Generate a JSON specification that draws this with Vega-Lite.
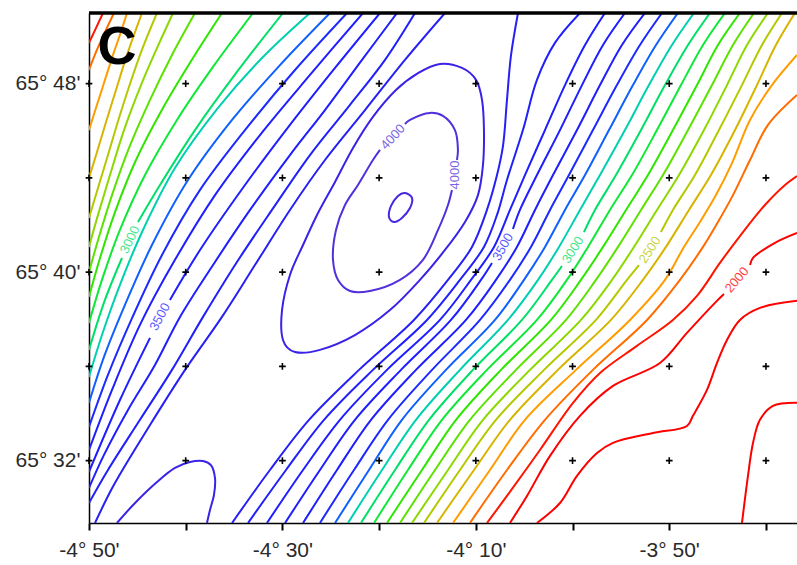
{
"$schema":"https://vega.github.io/schema/vega-lite/v6.json",
"width":708,"height":510,
"autosize":{"type":"none"},
"padding":{"left":89,"top":13,"right":0,"bottom":42},
"background":"white",
"config":{"view":{"stroke":null},"font":"Liberation Sans"},
"datasets":{
"lines":[
{"g":"L2100","v":2100,"o":0,"x":-290,"y":49.73},{"g":"L2100","v":2100,"o":1,"x":-289.28,"y":50.36},{"g":"L2100","v":2100,"o":2,"x":-288.55,"y":51.0},
{"g":"L2200","v":2200,"o":0,"x":-290,"y":48.58},{"g":"L2200","v":2200,"o":1,"x":-289.28,"y":49.34},{"g":"L2200","v":2200,"o":2,"x":-288.35,"y":50.19},{"g":"L2200","v":2200,"o":3,"x":-287.42,"y":51.0},
{"g":"L2300","v":2300,"o":0,"x":-290,"y":46.03},{"g":"L2300","v":2300,"o":1,"x":-289.28,"y":46.97},{"g":"L2300","v":2300,"o":2,"x":-288.45,"y":48.03},{"g":"L2300","v":2300,"o":3,"x":-287.52,"y":49.22},{"g":"L2300","v":2300,"o":4,"x":-286.8,"y":50.07},{"g":"L2300","v":2300,"o":5,"x":-286.07,"y":51.0},
{"g":"L2400","v":2400,"o":0,"x":-290,"y":44.0},{"g":"L2400","v":2400,"o":1,"x":-289.17,"y":45.1},{"g":"L2400","v":2400,"o":2,"x":-288.24,"y":46.37},{"g":"L2400","v":2400,"o":3,"x":-287.21,"y":47.73},{"g":"L2400","v":2400,"o":4,"x":-286.07,"y":49.22},{"g":"L2400","v":2400,"o":5,"x":-284.52,"y":51.0},
{"g":"L2500","v":2500,"o":0,"x":-290,"y":42.3},{"g":"L2500","v":2500,"o":1,"x":-289.07,"y":43.57},{"g":"L2500","v":2500,"o":2,"x":-288.04,"y":44.97},{"g":"L2500","v":2500,"o":3,"x":-286.8,"y":46.67},{"g":"L2500","v":2500,"o":4,"x":-285.45,"y":48.37},{"g":"L2500","v":2500,"o":5,"x":-284.21,"y":49.77},{"g":"L2500","v":2500,"o":6,"x":-282.97,"y":51.0},
{"g":"L2600","v":2600,"o":0,"x":-290,"y":41.07},{"g":"L2600","v":2600,"o":1,"x":-289.07,"y":42.43},{"g":"L2600","v":2600,"o":2,"x":-287.83,"y":44.12},{"g":"L2600","v":2600,"o":3,"x":-286.38,"y":46.03},{"g":"L2600","v":2600,"o":4,"x":-284.62,"y":47.94},{"g":"L2600","v":2600,"o":5,"x":-282.97,"y":49.51},{"g":"L2600","v":2600,"o":6,"x":-281.31,"y":51.0},
{"g":"L2700","v":2700,"o":0,"x":-290,"y":40.01},{"g":"L2700","v":2700,"o":1,"x":-288.97,"y":41.49},{"g":"L2700","v":2700,"o":2,"x":-287.62,"y":43.27},{"g":"L2700","v":2700,"o":3,"x":-285.86,"y":45.27},{"g":"L2700","v":2700,"o":4,"x":-283.69,"y":47.31},{"g":"L2700","v":2700,"o":5,"x":-281.42,"y":49.22},{"g":"L2700","v":2700,"o":6,"x":-279.04,"y":51.0},
{"g":"L2800","v":2800,"o":0,"x":-290,"y":38.95},{"g":"L2800","v":2800,"o":1,"x":-288.86,"y":40.6},{"g":"L2800","v":2800,"o":2,"x":-287.31,"y":42.55},{"g":"L2800","v":2800,"o":3,"x":-285.14,"y":44.76},{"g":"L2800","v":2800,"o":4,"x":-282.35,"y":46.97},{"g":"L2800","v":2800,"o":5,"x":-279.25,"y":49.09},{"g":"L2800","v":2800,"o":6,"x":-276.25,"y":51.0},
{"g":"L2900","v":2900,"o":0,"x":-290,"y":37.84},{"g":"L2900","v":2900,"o":1,"x":-288.66,"y":39.67},{"g":"L2900","v":2900,"o":2,"x":-286.8,"y":41.79},{"g":"L2900","v":2900,"o":3,"x":-284.21,"y":44.12},{"g":"L2900","v":2900,"o":4,"x":-280.9,"y":46.46},{"g":"L2900","v":2900,"o":5,"x":-277.18,"y":48.71},{"g":"L2900","v":2900,"o":6,"x":-273.04,"y":51.0},
{"g":"L3000a","v":3000,"o":0,"x":-290,"y":36.7},{"g":"L3000a","v":3000,"o":1,"x":-288.35,"y":38.82},{"g":"L3000a","v":3000,"o":2,"x":-286.59,"y":40.6},
{"g":"L3000b","v":3000,"o":0,"x":-284.93,"y":42.13},{"g":"L3000b","v":3000,"o":1,"x":-282.66,"y":43.7},{"g":"L3000b","v":3000,"o":2,"x":-279.04,"y":46.03},{"g":"L3000b","v":3000,"o":3,"x":-274.7,"y":48.5},{"g":"L3000b","v":3000,"o":4,"x":-269.94,"y":51.0},
{"g":"L3100","v":3100,"o":0,"x":-290,"y":35.55},{"g":"L3100","v":3100,"o":1,"x":-288.66,"y":37.33},{"g":"L3100","v":3100,"o":2,"x":-286.8,"y":39.46},{"g":"L3100","v":3100,"o":3,"x":-284.42,"y":41.79},{"g":"L3100","v":3100,"o":4,"x":-281.11,"y":44.42},{"g":"L3100","v":3100,"o":5,"x":-276.66,"y":46.97},{"g":"L3100","v":3100,"o":6,"x":-272.11,"y":49.09},{"g":"L3100","v":3100,"o":7,"x":-267.15,"y":51.0},
{"g":"L3200","v":3200,"o":0,"x":-290,"y":34.45},{"g":"L3200","v":3200,"o":1,"x":-288.45,"y":36.4},{"g":"L3200","v":3200,"o":2,"x":-286.28,"y":38.61},{"g":"L3200","v":3200,"o":3,"x":-283.49,"y":41.15},{"g":"L3200","v":3200,"o":4,"x":-279.76,"y":43.91},{"g":"L3200","v":3200,"o":5,"x":-275.21,"y":46.46},{"g":"L3200","v":3200,"o":6,"x":-270.25,"y":48.79},{"g":"L3200","v":3200,"o":7,"x":-265.08,"y":51.0},
{"g":"L3300","v":3300,"o":0,"x":-290,"y":33.43},{"g":"L3300","v":3300,"o":1,"x":-288.04,"y":35.64},{"g":"L3300","v":3300,"o":2,"x":-285.55,"y":38.05},{"g":"L3300","v":3300,"o":3,"x":-282.45,"y":40.73},{"g":"L3300","v":3300,"o":4,"x":-278.52,"y":43.49},{"g":"L3300","v":3300,"o":5,"x":-273.87,"y":46.03},{"g":"L3300","v":3300,"o":6,"x":-268.7,"y":48.58},{"g":"L3300","v":3300,"o":7,"x":-263.32,"y":51.0},
{"g":"L3400","v":3400,"o":0,"x":-290,"y":32.45},{"g":"L3400","v":3400,"o":1,"x":-287.62,"y":35.0},{"g":"L3400","v":3400,"o":2,"x":-284.73,"y":37.76},{"g":"L3400","v":3400,"o":3,"x":-281.11,"y":40.52},{"g":"L3400","v":3400,"o":4,"x":-276.97,"y":43.27},{"g":"L3400","v":3400,"o":5,"x":-272.32,"y":45.82},{"g":"L3400","v":3400,"o":6,"x":-267.15,"y":48.37},{"g":"L3400","v":3400,"o":7,"x":-261.67,"y":51.0},
{"g":"L3500a","v":3500,"o":0,"x":-290,"y":31.52},{"g":"L3500a","v":3500,"o":1,"x":-286.8,"y":34.57},{"g":"L3500a","v":3500,"o":2,"x":-283.69,"y":37.21},
{"g":"L3500b","v":3500,"o":0,"x":-281.63,"y":38.82},{"g":"L3500b","v":3500,"o":1,"x":-278.52,"y":40.94},{"g":"L3500b","v":3500,"o":2,"x":-273.87,"y":43.7},{"g":"L3500b","v":3500,"o":3,"x":-269.22,"y":46.25},{"g":"L3500b","v":3500,"o":4,"x":-264.56,"y":48.67},{"g":"L3500b","v":3500,"o":5,"x":-259.91,"y":51.0},
{"g":"L3600","v":3600,"o":0,"x":-290,"y":30.84},{"g":"L3600","v":3600,"o":1,"x":-288.45,"y":32.24},{"g":"L3600","v":3600,"o":2,"x":-285.97,"y":34.15},{"g":"L3600","v":3600,"o":3,"x":-283.18,"y":36.06},{"g":"L3600","v":3600,"o":4,"x":-280.59,"y":38.1},{"g":"L3600","v":3600,"o":5,"x":-276.97,"y":40.43},{"g":"L3600","v":3600,"o":6,"x":-273.35,"y":42.64},{"g":"L3600","v":3600,"o":7,"x":-269.22,"y":44.97},{"g":"L3600","v":3600,"o":8,"x":-265.6,"y":46.88},{"g":"L3600","v":3600,"o":9,"x":-261.77,"y":49.01},{"g":"L3600","v":3600,"o":10,"x":-258.15,"y":51.0},
{"g":"L3700","v":3700,"o":0,"x":-290,"y":30.2},{"g":"L3700","v":3700,"o":1,"x":-288.04,"y":31.6},{"g":"L3700","v":3700,"o":2,"x":-284.73,"y":33.73},{"g":"L3700","v":3700,"o":3,"x":-281.42,"y":35.85},{"g":"L3700","v":3700,"o":4,"x":-278.21,"y":38.1},{"g":"L3700","v":3700,"o":5,"x":-274.7,"y":40.43},{"g":"L3700","v":3700,"o":6,"x":-271.08,"y":42.64},{"g":"L3700","v":3700,"o":7,"x":-267.15,"y":44.97},{"g":"L3700","v":3700,"o":8,"x":-263.01,"y":47.1},{"g":"L3700","v":3700,"o":9,"x":-259.39,"y":49.01},{"g":"L3700","v":3700,"o":10,"x":-256.29,"y":51.0},
{"g":"L3800","v":3800,"o":0,"x":-289.38,"y":29.35},{"g":"L3800","v":3800,"o":1,"x":-287.42,"y":30.97},{"g":"L3800","v":3800,"o":2,"x":-283.69,"y":33.51},{"g":"L3800","v":3800,"o":3,"x":-280.07,"y":35.85},{"g":"L3800","v":3800,"o":4,"x":-276.25,"y":38.1},{"g":"L3800","v":3800,"o":5,"x":-272.84,"y":40.3},{"g":"L3800","v":3800,"o":6,"x":-269.22,"y":42.64},{"g":"L3800","v":3800,"o":7,"x":-265.6,"y":44.76},{"g":"L3800","v":3800,"o":8,"x":-261.46,"y":46.88},{"g":"L3800","v":3800,"o":9,"x":-257.33,"y":49.01},{"g":"L3800","v":3800,"o":10,"x":-253.19,"y":51.0},
{"g":"U3900","v":3900,"o":0,"x":-287.11,"y":29.35},{"g":"U3900","v":3900,"o":1,"x":-285.24,"y":30.2},{"g":"U3900","v":3900,"o":2,"x":-282.97,"y":31.09},{"g":"U3900","v":3900,"o":3,"x":-281.11,"y":31.69},{"g":"U3900","v":3900,"o":4,"x":-279.56,"y":31.94},{"g":"U3900","v":3900,"o":5,"x":-278.21,"y":31.98},{"g":"U3900","v":3900,"o":6,"x":-277.39,"y":31.81},{"g":"U3900","v":3900,"o":7,"x":-276.97,"y":31.26},{"g":"U3900","v":3900,"o":8,"x":-277.08,"y":30.54},{"g":"U3900","v":3900,"o":9,"x":-277.49,"y":29.9},{"g":"U3900","v":3900,"o":10,"x":-277.8,"y":29.35},
{"g":"E4000a","v":4000,"o":0,"x":-252.47,"y":43.49},{"g":"E4000a","v":4000,"o":1,"x":-252.88,"y":42.85},{"g":"E4000a","v":4000,"o":2,"x":-253.91,"y":41.79},{"g":"E4000a","v":4000,"o":3,"x":-255.47,"y":40.52},{"g":"E4000a","v":4000,"o":4,"x":-257.84,"y":39.67},{"g":"E4000a","v":4000,"o":5,"x":-260.95,"y":39.2},{"g":"E4000a","v":4000,"o":6,"x":-263.01,"y":39.2},{"g":"E4000a","v":4000,"o":7,"x":-264.25,"y":39.67},{"g":"E4000a","v":4000,"o":8,"x":-264.77,"y":40.52},{"g":"E4000a","v":4000,"o":9,"x":-264.46,"y":41.79},{"g":"E4000a","v":4000,"o":10,"x":-263.53,"y":42.85},{"g":"E4000a","v":4000,"o":11,"x":-262.19,"y":43.7},{"g":"E4000a","v":4000,"o":12,"x":-260.64,"y":44.76},{"g":"E4000a","v":4000,"o":13,"x":-259.91,"y":45.19},
{"g":"E4000b","v":4000,"o":0,"x":-257.33,"y":46.29},{"g":"E4000b","v":4000,"o":1,"x":-256.81,"y":46.46},{"g":"E4000b","v":4000,"o":2,"x":-254.74,"y":46.76},{"g":"E4000b","v":4000,"o":3,"x":-253.4,"y":46.63},{"g":"E4000b","v":4000,"o":4,"x":-252.16,"y":46.03},{"g":"E4000b","v":4000,"o":5,"x":-251.85,"y":45.19},{"g":"E4000b","v":4000,"o":6,"x":-251.95,"y":44.76},
{"g":"R3800","v":3800,"o":0,"x":-275.21,"y":29.35},{"g":"R3800","v":3800,"o":1,"x":-271.29,"y":31.6},{"g":"R3800","v":3800,"o":2,"x":-267.25,"y":33.73},{"g":"R3800","v":3800,"o":3,"x":-262.08,"y":35.85},{"g":"R3800","v":3800,"o":4,"x":-256.4,"y":37.97},{"g":"R3800","v":3800,"o":5,"x":-252.88,"y":39.67},{"g":"R3800","v":3800,"o":6,"x":-250.4,"y":41.07},{"g":"R3800","v":3800,"o":7,"x":-248.85,"y":42.64},{"g":"R3800","v":3800,"o":8,"x":-247.81,"y":44.12},{"g":"R3800","v":3800,"o":9,"x":-247.19,"y":45.36},{"g":"R3800","v":3800,"o":10,"x":-246.78,"y":47.31},{"g":"R3800","v":3800,"o":11,"x":-246.37,"y":49.18},{"g":"R3800","v":3800,"o":12,"x":-245.64,"y":51.0},
{"g":"R3700","v":3700,"o":0,"x":-273.56,"y":29.35},{"g":"R3700","v":3700,"o":1,"x":-269.63,"y":31.6},{"g":"R3700","v":3700,"o":2,"x":-265.7,"y":33.73},{"g":"R3700","v":3700,"o":3,"x":-260.64,"y":35.85},{"g":"R3700","v":3700,"o":4,"x":-255.05,"y":37.97},{"g":"R3700","v":3700,"o":5,"x":-251.64,"y":39.67},{"g":"R3700","v":3700,"o":6,"x":-249.16,"y":41.07},{"g":"R3700","v":3700,"o":7,"x":-247.81,"y":42.43},{"g":"R3700","v":3700,"o":8,"x":-246.78,"y":43.91},{"g":"R3700","v":3700,"o":9,"x":-245.13,"y":46.03},{"g":"R3700","v":3700,"o":10,"x":-243.68,"y":48.16},{"g":"R3700","v":3700,"o":11,"x":-241.82,"y":49.73},{"g":"R3700","v":3700,"o":12,"x":-239.23,"y":51.0},
{"g":"R3600","v":3600,"o":0,"x":-271.6,"y":29.35},{"g":"R3600","v":3600,"o":1,"x":-267.87,"y":31.6},{"g":"R3600","v":3600,"o":2,"x":-264.05,"y":33.73},{"g":"R3600","v":3600,"o":3,"x":-259.19,"y":35.85},{"g":"R3600","v":3600,"o":4,"x":-253.71,"y":37.97},{"g":"R3600","v":3600,"o":5,"x":-250.5,"y":39.67},{"g":"R3600","v":3600,"o":6,"x":-248.12,"y":41.07},{"g":"R3600","v":3600,"o":7,"x":-246.47,"y":42.64},{"g":"R3600","v":3600,"o":8,"x":-244.92,"y":44.12},{"g":"R3600","v":3600,"o":9,"x":-242.85,"y":46.03},{"g":"R3600","v":3600,"o":10,"x":-240.78,"y":47.94},{"g":"R3600","v":3600,"o":11,"x":-238.71,"y":49.64},{"g":"R3600","v":3600,"o":12,"x":-236.65,"y":51.0},
{"g":"R3500a","v":3500,"o":0,"x":-269.73,"y":29.35},{"g":"R3500a","v":3500,"o":1,"x":-266.12,"y":31.6},{"g":"R3500a","v":3500,"o":2,"x":-262.5,"y":33.73},{"g":"R3500a","v":3500,"o":3,"x":-257.74,"y":35.85},{"g":"R3500a","v":3500,"o":4,"x":-252.57,"y":37.97},{"g":"R3500a","v":3500,"o":5,"x":-249.47,"y":39.67},{"g":"R3500a","v":3500,"o":6,"x":-248.33,"y":40.39},
{"g":"R3500b","v":3500,"o":0,"x":-246.16,"y":41.83},{"g":"R3500b","v":3500,"o":1,"x":-245.44,"y":42.64},{"g":"R3500b","v":3500,"o":2,"x":-243.68,"y":44.12},{"g":"R3500b","v":3500,"o":3,"x":-241.3,"y":46.03},{"g":"R3500b","v":3500,"o":4,"x":-239.02,"y":47.94},{"g":"R3500b","v":3500,"o":5,"x":-236.85,"y":49.64},{"g":"R3500b","v":3500,"o":6,"x":-234.58,"y":51.0},
{"g":"R3400","v":3400,"o":0,"x":-267.87,"y":29.35},{"g":"R3400","v":3400,"o":1,"x":-264.36,"y":31.6},{"g":"R3400","v":3400,"o":2,"x":-260.84,"y":33.73},{"g":"R3400","v":3400,"o":3,"x":-256.19,"y":35.85},{"g":"R3400","v":3400,"o":4,"x":-251.02,"y":37.97},{"g":"R3400","v":3400,"o":5,"x":-247.92,"y":39.67},{"g":"R3400","v":3400,"o":6,"x":-245.75,"y":41.07},{"g":"R3400","v":3400,"o":7,"x":-243.88,"y":42.64},{"g":"R3400","v":3400,"o":8,"x":-242.02,"y":44.12},{"g":"R3400","v":3400,"o":9,"x":-239.54,"y":46.03},{"g":"R3400","v":3400,"o":10,"x":-237.16,"y":47.94},{"g":"R3400","v":3400,"o":11,"x":-234.89,"y":49.64},{"g":"R3400","v":3400,"o":12,"x":-232.51,"y":51.0},
{"g":"R3300","v":3300,"o":0,"x":-266.12,"y":29.35},{"g":"R3300","v":3300,"o":1,"x":-262.6,"y":31.6},{"g":"R3300","v":3300,"o":2,"x":-259.08,"y":33.73},{"g":"R3300","v":3300,"o":3,"x":-254.53,"y":35.85},{"g":"R3300","v":3300,"o":4,"x":-249.57,"y":37.97},{"g":"R3300","v":3300,"o":5,"x":-246.47,"y":39.67},{"g":"R3300","v":3300,"o":6,"x":-244.3,"y":41.07},{"g":"R3300","v":3300,"o":7,"x":-242.33,"y":42.64},{"g":"R3300","v":3300,"o":8,"x":-240.37,"y":44.12},{"g":"R3300","v":3300,"o":9,"x":-237.89,"y":46.03},{"g":"R3300","v":3300,"o":10,"x":-235.41,"y":47.94},{"g":"R3300","v":3300,"o":11,"x":-233.03,"y":49.64},{"g":"R3300","v":3300,"o":12,"x":-230.75,"y":51.0},
{"g":"R3200","v":3200,"o":0,"x":-264.56,"y":29.35},{"g":"R3200","v":3200,"o":1,"x":-261.05,"y":31.6},{"g":"R3200","v":3200,"o":2,"x":-257.64,"y":33.73},{"g":"R3200","v":3200,"o":3,"x":-253.09,"y":35.85},{"g":"R3200","v":3200,"o":4,"x":-248.02,"y":37.97},{"g":"R3200","v":3200,"o":5,"x":-245.02,"y":39.67},{"g":"R3200","v":3200,"o":6,"x":-242.85,"y":41.07},{"g":"R3200","v":3200,"o":7,"x":-240.78,"y":42.64},{"g":"R3200","v":3200,"o":8,"x":-238.71,"y":44.12},{"g":"R3200","v":3200,"o":9,"x":-236.23,"y":46.03},{"g":"R3200","v":3200,"o":10,"x":-233.75,"y":47.94},{"g":"R3200","v":3200,"o":11,"x":-231.37,"y":49.64},{"g":"R3200","v":3200,"o":12,"x":-229.1,"y":51.0},
{"g":"R3100","v":3100,"o":0,"x":-263.22,"y":29.35},{"g":"R3100","v":3100,"o":1,"x":-259.7,"y":31.6},{"g":"R3100","v":3100,"o":2,"x":-256.19,"y":33.73},{"g":"R3100","v":3100,"o":3,"x":-251.64,"y":35.85},{"g":"R3100","v":3100,"o":4,"x":-246.68,"y":37.97},{"g":"R3100","v":3100,"o":5,"x":-243.57,"y":39.67},{"g":"R3100","v":3100,"o":6,"x":-241.4,"y":41.07},{"g":"R3100","v":3100,"o":7,"x":-239.23,"y":42.64},{"g":"R3100","v":3100,"o":8,"x":-237.16,"y":44.12},{"g":"R3100","v":3100,"o":9,"x":-234.58,"y":46.03},{"g":"R3100","v":3100,"o":10,"x":-232.1,"y":47.94},{"g":"R3100","v":3100,"o":11,"x":-229.72,"y":49.64},{"g":"R3100","v":3100,"o":12,"x":-227.44,"y":51.0},
{"g":"R3000a","v":3000,"o":0,"x":-261.88,"y":29.35},{"g":"R3000a","v":3000,"o":1,"x":-258.36,"y":31.6},{"g":"R3000a","v":3000,"o":2,"x":-254.84,"y":33.73},{"g":"R3000a","v":3000,"o":3,"x":-250.3,"y":35.85},{"g":"R3000a","v":3000,"o":4,"x":-245.23,"y":37.97},{"g":"R3000a","v":3000,"o":5,"x":-242.13,"y":39.67},{"g":"R3000a","v":3000,"o":6,"x":-241.09,"y":40.26},
{"g":"R3000b","v":3000,"o":0,"x":-238.82,"y":41.7},{"g":"R3000b","v":3000,"o":1,"x":-237.68,"y":42.64},{"g":"R3000b","v":3000,"o":2,"x":-235.51,"y":44.12},{"g":"R3000b","v":3000,"o":3,"x":-232.92,"y":46.03},{"g":"R3000b","v":3000,"o":4,"x":-230.44,"y":47.94},{"g":"R3000b","v":3000,"o":5,"x":-228.06,"y":49.64},{"g":"R3000b","v":3000,"o":6,"x":-225.79,"y":51.0},
{"g":"R2900","v":2900,"o":0,"x":-260.53,"y":29.35},{"g":"R2900","v":2900,"o":1,"x":-257.02,"y":31.6},{"g":"R2900","v":2900,"o":2,"x":-253.5,"y":33.73},{"g":"R2900","v":2900,"o":3,"x":-248.85,"y":35.85},{"g":"R2900","v":2900,"o":4,"x":-243.68,"y":37.97},{"g":"R2900","v":2900,"o":5,"x":-240.58,"y":39.67},{"g":"R2900","v":2900,"o":6,"x":-238.4,"y":41.07},{"g":"R2900","v":2900,"o":7,"x":-236.13,"y":42.64},{"g":"R2900","v":2900,"o":8,"x":-233.85,"y":44.12},{"g":"R2900","v":2900,"o":9,"x":-231.27,"y":46.03},{"g":"R2900","v":2900,"o":10,"x":-228.79,"y":47.94},{"g":"R2900","v":2900,"o":11,"x":-226.51,"y":49.64},{"g":"R2900","v":2900,"o":12,"x":-224.24,"y":51.0},
{"g":"R2800","v":2800,"o":0,"x":-259.19,"y":29.35},{"g":"R2800","v":2800,"o":1,"x":-255.57,"y":31.6},{"g":"R2800","v":2800,"o":2,"x":-252.05,"y":33.73},{"g":"R2800","v":2800,"o":3,"x":-247.4,"y":35.85},{"g":"R2800","v":2800,"o":4,"x":-242.23,"y":37.97},{"g":"R2800","v":2800,"o":5,"x":-239.13,"y":39.67},{"g":"R2800","v":2800,"o":6,"x":-236.85,"y":41.07},{"g":"R2800","v":2800,"o":7,"x":-234.47,"y":42.64},{"g":"R2800","v":2800,"o":8,"x":-232.2,"y":44.12},{"g":"R2800","v":2800,"o":9,"x":-229.62,"y":46.03},{"g":"R2800","v":2800,"o":10,"x":-227.13,"y":47.94},{"g":"R2800","v":2800,"o":11,"x":-224.96,"y":49.64},{"g":"R2800","v":2800,"o":12,"x":-222.69,"y":51.0},
{"g":"R2700","v":2700,"o":0,"x":-257.84,"y":29.35},{"g":"R2700","v":2700,"o":1,"x":-254.22,"y":31.6},{"g":"R2700","v":2700,"o":2,"x":-250.61,"y":33.73},{"g":"R2700","v":2700,"o":3,"x":-245.85,"y":35.85},{"g":"R2700","v":2700,"o":4,"x":-240.68,"y":37.97},{"g":"R2700","v":2700,"o":5,"x":-237.58,"y":39.67},{"g":"R2700","v":2700,"o":6,"x":-235.3,"y":41.07},{"g":"R2700","v":2700,"o":7,"x":-232.92,"y":42.64},{"g":"R2700","v":2700,"o":8,"x":-230.65,"y":44.12},{"g":"R2700","v":2700,"o":9,"x":-228.06,"y":46.03},{"g":"R2700","v":2700,"o":10,"x":-225.58,"y":47.94},{"g":"R2700","v":2700,"o":11,"x":-223.41,"y":49.64},{"g":"R2700","v":2700,"o":12,"x":-221.24,"y":51.0},
{"g":"R2600","v":2600,"o":0,"x":-256.6,"y":29.35},{"g":"R2600","v":2600,"o":1,"x":-252.88,"y":31.6},{"g":"R2600","v":2600,"o":2,"x":-249.26,"y":33.73},{"g":"R2600","v":2600,"o":3,"x":-244.4,"y":35.85},{"g":"R2600","v":2600,"o":4,"x":-239.13,"y":37.97},{"g":"R2600","v":2600,"o":5,"x":-235.92,"y":39.67},{"g":"R2600","v":2600,"o":6,"x":-233.65,"y":41.07},{"g":"R2600","v":2600,"o":7,"x":-231.27,"y":42.64},{"g":"R2600","v":2600,"o":8,"x":-228.99,"y":44.12},{"g":"R2600","v":2600,"o":9,"x":-226.41,"y":46.03},{"g":"R2600","v":2600,"o":10,"x":-224.03,"y":47.94},{"g":"R2600","v":2600,"o":11,"x":-221.96,"y":49.64},{"g":"R2600","v":2600,"o":12,"x":-219.79,"y":51.0},
{"g":"R2500a","v":2500,"o":0,"x":-255.36,"y":29.35},{"g":"R2500a","v":2500,"o":1,"x":-251.64,"y":31.6},{"g":"R2500a","v":2500,"o":2,"x":-247.92,"y":33.73},{"g":"R2500a","v":2500,"o":3,"x":-242.95,"y":35.85},{"g":"R2500a","v":2500,"o":4,"x":-237.58,"y":37.97},{"g":"R2500a","v":2500,"o":5,"x":-234.37,"y":39.67},{"g":"R2500a","v":2500,"o":6,"x":-233.13,"y":40.3},
{"g":"R2500b","v":2500,"o":0,"x":-230.86,"y":41.7},{"g":"R2500b","v":2500,"o":1,"x":-229.62,"y":42.64},{"g":"R2500b","v":2500,"o":2,"x":-227.34,"y":44.12},{"g":"R2500b","v":2500,"o":3,"x":-224.86,"y":46.03},{"g":"R2500b","v":2500,"o":4,"x":-222.48,"y":47.94},{"g":"R2500b","v":2500,"o":5,"x":-220.41,"y":49.64},{"g":"R2500b","v":2500,"o":6,"x":-218.34,"y":51.0},
{"g":"R2400","v":2400,"o":0,"x":-254.02,"y":29.35},{"g":"R2400","v":2400,"o":1,"x":-250.19,"y":31.6},{"g":"R2400","v":2400,"o":2,"x":-246.47,"y":33.73},{"g":"R2400","v":2400,"o":3,"x":-241.51,"y":35.85},{"g":"R2400","v":2400,"o":4,"x":-236.03,"y":37.97},{"g":"R2400","v":2400,"o":5,"x":-232.72,"y":39.67},{"g":"R2400","v":2400,"o":6,"x":-230.34,"y":41.07},{"g":"R2400","v":2400,"o":7,"x":-227.96,"y":42.64},{"g":"R2400","v":2400,"o":8,"x":-225.69,"y":44.12},{"g":"R2400","v":2400,"o":9,"x":-223.2,"y":46.03},{"g":"R2400","v":2400,"o":10,"x":-220.93,"y":47.94},{"g":"R2400","v":2400,"o":11,"x":-218.97,"y":49.64},{"g":"R2400","v":2400,"o":12,"x":-217.0,"y":51.0},
{"g":"R2300","v":2300,"o":0,"x":-252.36,"y":29.35},{"g":"R2300","v":2300,"o":1,"x":-248.54,"y":31.6},{"g":"R2300","v":2300,"o":2,"x":-244.92,"y":33.73},{"g":"R2300","v":2300,"o":3,"x":-239.64,"y":35.85},{"g":"R2300","v":2300,"o":4,"x":-234.06,"y":37.97},{"g":"R2300","v":2300,"o":5,"x":-230.44,"y":39.67},{"g":"R2300","v":2300,"o":6,"x":-228.48,"y":41.07},{"g":"R2300","v":2300,"o":7,"x":-226.82,"y":42.13},{"g":"R2300","v":2300,"o":8,"x":-225.17,"y":43.27},{"g":"R2300","v":2300,"o":9,"x":-223.51,"y":44.63},{"g":"R2300","v":2300,"o":10,"x":-221.65,"y":46.46},{"g":"R2300","v":2300,"o":11,"x":-219.38,"y":47.94},{"g":"R2300","v":2300,"o":12,"x":-216.79,"y":49.22},
{"g":"R2200","v":2200,"o":0,"x":-250.61,"y":29.35},{"g":"R2200","v":2200,"o":1,"x":-246.78,"y":31.6},{"g":"R2200","v":2200,"o":2,"x":-242.85,"y":33.73},{"g":"R2200","v":2200,"o":3,"x":-237.89,"y":35.85},{"g":"R2200","v":2200,"o":4,"x":-232.3,"y":37.97},{"g":"R2200","v":2200,"o":5,"x":-228.89,"y":39.67},{"g":"R2200","v":2200,"o":6,"x":-226.51,"y":41.07},{"g":"R2200","v":2200,"o":7,"x":-224.96,"y":42.13},{"g":"R2200","v":2200,"o":8,"x":-223.41,"y":43.27},{"g":"R2200","v":2200,"o":9,"x":-221.65,"y":44.76},{"g":"R2200","v":2200,"o":10,"x":-219.79,"y":46.25},{"g":"R2200","v":2200,"o":11,"x":-216.79,"y":47.52},
{"g":"A2100","v":2100,"o":0,"x":-248.85,"y":29.35},{"g":"A2100","v":2100,"o":1,"x":-246.78,"y":30.5},{"g":"A2100","v":2100,"o":2,"x":-243.37,"y":32.45},{"g":"A2100","v":2100,"o":3,"x":-239.95,"y":34.45},{"g":"A2100","v":2100,"o":4,"x":-237.16,"y":35.72},{"g":"A2100","v":2100,"o":5,"x":-233.34,"y":36.87},{"g":"A2100","v":2100,"o":6,"x":-229.62,"y":37.97},{"g":"A2100","v":2100,"o":7,"x":-227.13,"y":38.99},{"g":"A2100","v":2100,"o":8,"x":-224.76,"y":40.39},{"g":"A2100","v":2100,"o":9,"x":-222.69,"y":41.53},{"g":"A2100","v":2100,"o":10,"x":-220.1,"y":42.85},{"g":"A2100","v":2100,"o":11,"x":-218.03,"y":43.7},{"g":"A2100","v":2100,"o":12,"x":-216.79,"y":44.08},
{"g":"B2000a","v":2000,"o":0,"x":-246.47,"y":29.35},{"g":"B2000a","v":2000,"o":1,"x":-244.71,"y":30.5},{"g":"B2000a","v":2000,"o":2,"x":-242.33,"y":32.2},{"g":"B2000a","v":2000,"o":3,"x":-239.23,"y":33.9},{"g":"B2000a","v":2000,"o":4,"x":-235.82,"y":35.17},{"g":"B2000a","v":2000,"o":5,"x":-230.96,"y":36.14},{"g":"B2000a","v":2000,"o":6,"x":-228.17,"y":37.42},{"g":"B2000a","v":2000,"o":7,"x":-225.07,"y":38.78},{"g":"B2000a","v":2000,"o":8,"x":-224.34,"y":39.07},
{"g":"B2000b","v":2000,"o":0,"x":-221.65,"y":40.3},{"g":"B2000b","v":2000,"o":1,"x":-221.34,"y":40.6},{"g":"B2000b","v":2000,"o":2,"x":-219.07,"y":41.24},{"g":"B2000b","v":2000,"o":3,"x":-216.79,"y":41.66},
{"g":"C1900","v":1900,"o":0,"x":-243.68,"y":29.35},{"g":"C1900","v":1900,"o":1,"x":-241.3,"y":30.2},{"g":"C1900","v":1900,"o":2,"x":-239.54,"y":31.35},{"g":"C1900","v":1900,"o":3,"x":-237.47,"y":32.32},{"g":"C1900","v":1900,"o":4,"x":-235.82,"y":32.75},{"g":"C1900","v":1900,"o":5,"x":-231.68,"y":33.17},{"g":"C1900","v":1900,"o":6,"x":-228.17,"y":33.47},{"g":"C1900","v":1900,"o":7,"x":-227.55,"y":33.9},{"g":"C1900","v":1900,"o":8,"x":-226.1,"y":35.0},{"g":"C1900","v":1900,"o":9,"x":-225.07,"y":36.14},{"g":"C1900","v":1900,"o":10,"x":-224.03,"y":37.12},{"g":"C1900","v":1900,"o":11,"x":-222.69,"y":37.97},{"g":"C1900","v":1900,"o":12,"x":-220.62,"y":38.48},{"g":"C1900","v":1900,"o":13,"x":-216.79,"y":38.78},
{"g":"D1800","v":1800,"o":0,"x":-222.48,"y":29.35},{"g":"D1800","v":1800,"o":1,"x":-221.86,"y":31.35},{"g":"D1800","v":1800,"o":2,"x":-221.34,"y":32.75},{"g":"D1800","v":1800,"o":3,"x":-220.62,"y":33.73},{"g":"D1800","v":1800,"o":4,"x":-219.28,"y":34.32},{"g":"D1800","v":1800,"o":5,"x":-216.79,"y":34.45}
],
"loops":[
{"g":"O3900","v":3900,"o":0,"x":-253.71,"y":48.84},{"g":"O3900","v":3900,"o":1,"x":-251.43,"y":48.67},{"g":"O3900","v":3900,"o":2,"x":-249.98,"y":48.16},{"g":"O3900","v":3900,"o":3,"x":-249.36,"y":47.31},{"g":"O3900","v":3900,"o":4,"x":-249.16,"y":46.03},{"g":"O3900","v":3900,"o":5,"x":-249.26,"y":44.55},{"g":"O3900","v":3900,"o":6,"x":-249.78,"y":43.27},{"g":"O3900","v":3900,"o":7,"x":-251.12,"y":42.13},{"g":"O3900","v":3900,"o":8,"x":-253.19,"y":40.94},{"g":"O3900","v":3900,"o":9,"x":-255.78,"y":39.67},{"g":"O3900","v":3900,"o":10,"x":-258.88,"y":38.39},{"g":"O3900","v":3900,"o":11,"x":-262.5,"y":37.33},{"g":"O3900","v":3900,"o":12,"x":-266.12,"y":36.7},{"g":"O3900","v":3900,"o":13,"x":-268.7,"y":36.61},{"g":"O3900","v":3900,"o":14,"x":-269.94,"y":37.12},{"g":"O3900","v":3900,"o":15,"x":-270.04,"y":38.39},{"g":"O3900","v":3900,"o":16,"x":-269.22,"y":39.88},{"g":"O3900","v":3900,"o":17,"x":-267.87,"y":41.15},{"g":"O3900","v":3900,"o":18,"x":-266.32,"y":42.51},{"g":"O3900","v":3900,"o":19,"x":-264.56,"y":43.83},{"g":"O3900","v":3900,"o":20,"x":-262.7,"y":45.27},{"g":"O3900","v":3900,"o":21,"x":-260.64,"y":46.59},{"g":"O3900","v":3900,"o":22,"x":-258.26,"y":47.73},{"g":"O3900","v":3900,"o":23,"x":-255.98,"y":48.45},
{"g":"I4100","v":4100,"o":0,"x":-257.33,"y":43.36},{"g":"I4100","v":4100,"o":1,"x":-256.6,"y":43.15},{"g":"I4100","v":4100,"o":2,"x":-256.81,"y":42.72},{"g":"I4100","v":4100,"o":3,"x":-257.64,"y":42.3},{"g":"I4100","v":4100,"o":4,"x":-258.46,"y":42.13},{"g":"I4100","v":4100,"o":5,"x":-258.98,"y":42.34},{"g":"I4100","v":4100,"o":6,"x":-258.77,"y":42.81},{"g":"I4100","v":4100,"o":7,"x":-258.05,"y":43.23}
],
"labels":[
{"t":"3000","v":3000,"x":-285.76,"y":41.37,"a":-64},
{"t":"3500","v":3500,"x":-282.66,"y":38.1,"a":-62},
{"t":"4000","v":4000,"x":-258.57,"y":45.74,"a":-47},
{"t":"4000","v":4000,"x":-252.16,"y":44.12,"a":-90},
{"t":"3500","v":3500,"x":-247.19,"y":41.07,"a":-61},
{"t":"3000","v":3000,"x":-239.95,"y":40.94,"a":-58},
{"t":"2500","v":2500,"x":-231.99,"y":40.94,"a":-57},
{"t":"2000","v":2000,"x":-223.0,"y":39.67,"a":-50}
],
"grid":[
{"x":-290,"y":48},{"x":-280,"y":48},{"x":-270,"y":48},{"x":-260,"y":48},{"x":-250,"y":48},{"x":-240,"y":48},{"x":-230,"y":48},{"x":-220,"y":48},
{"x":-290,"y":44},{"x":-280,"y":44},{"x":-270,"y":44},{"x":-260,"y":44},{"x":-250,"y":44},{"x":-240,"y":44},{"x":-230,"y":44},{"x":-220,"y":44},
{"x":-290,"y":40},{"x":-280,"y":40},{"x":-270,"y":40},{"x":-260,"y":40},{"x":-250,"y":40},{"x":-240,"y":40},{"x":-230,"y":40},{"x":-220,"y":40},
{"x":-290,"y":36},{"x":-280,"y":36},{"x":-270,"y":36},{"x":-260,"y":36},{"x":-250,"y":36},{"x":-240,"y":36},{"x":-230,"y":36},{"x":-220,"y":36},
{"x":-290,"y":32},{"x":-280,"y":32},{"x":-270,"y":32},{"x":-260,"y":32},{"x":-250,"y":32},{"x":-240,"y":32},{"x":-230,"y":32},{"x":-220,"y":32}
],
"frame":[{"x":-290,"y":51},{"x":-216.79,"y":51}],
"tag":[{"x":-287.11,"y":49.5,"t":"C"}]
},
"encoding":{
"x":{"field":"x","type":"quantitative","scale":{"domain":[-290,-216.79],"nice":false,"zero":false},
 "axis":{"title":null,"values":[-290,-280,-270,-260,-250,-240,-230,-220],"labelExpr":"(datum.value + 290) % 20 == 0 ? '-' + floor(-datum.value/60) + '° ' + (-datum.value % 60) + \"'\" : ''","grid":false,"domainColor":"black","domainWidth":1.5,"tickColor":"black","tickWidth":2,"tickSize":7,"labelFontSize":21,"labelColor":"#2a2a2a","labelFont":"Liberation Sans","labelPadding":9,"labelFlush":false,"labelOverlap":false,"labelBound":false}},
"y":{"field":"y","type":"quantitative","scale":{"domain":[29.35,51],"nice":false,"zero":false},
 "axis":{"title":null,"values":[32,36,40,44,48],"labelExpr":"(48 - datum.value) % 8 == 0 ? '65° ' + datum.value + \"'\" : ''","grid":false,"domainColor":"black","domainWidth":1.5,"ticks":false,"labelFontSize":21,"labelColor":"#2a2a2a","labelFont":"Liberation Sans","labelPadding":9,"labelFlush":false,"labelOverlap":false,"labelBound":false}}
},
"layer":[
{"data":{"name":"lines"},"mark":{"type":"line","interpolate":"catmull-rom","strokeWidth":2,"clip":true},
 "encoding":{"detail":{"field":"g"},"order":{"field":"o","type":"quantitative"},
 "color":{"field":"v","type":"ordinal","legend":null,"scale":{"domain":[1800,1900,2000,2100,2200,2300,2400,2500,2600,2700,2800,2900,3000,3100,3200,3300,3400,3500,3600,3700,3800,3900,4000,4100],"range":["#ff0000","#ff0000","#ff0000","#ff1400","#ff6c00","#ff9c00","#d6b400","#b4c800","#8cd800","#5ce200","#2ee600","#10e838","#00e068","#00d0b0","#1060ff","#1c2aff","#1e1eff","#1e1eff","#1e1eff","#2020fa","#2620f4","#3a22e8","#5230dc","#4826e2"]}}}},
{"data":{"name":"loops"},"mark":{"type":"line","interpolate":"cardinal-closed","strokeWidth":2,"clip":true},
 "encoding":{"detail":{"field":"g"},"order":{"field":"o","type":"quantitative"},"color":{"field":"v","type":"ordinal","legend":null}}},
{"data":{"name":"labels"},"mark":{"type":"text","fontSize":13,"font":"Liberation Sans","align":"center","baseline":"middle","opacity":0.75},
 "encoding":{"text":{"field":"t"},"angle":{"field":"a","type":"quantitative","scale":null},"color":{"field":"v","type":"ordinal","legend":null}}},
{"data":{"name":"grid"},"mark":{"type":"point","shape":"M-1,0L1,0M0,-1L0,1","size":45,"filled":false,"strokeWidth":1.6,"color":"black","opacity":1}},
{"data":{"name":"frame"},"mark":{"type":"line","color":"black","strokeWidth":3.5,"clip":false}},
{"data":{"name":"tag"},"mark":{"type":"text","fontSize":54,"fontWeight":"bold","font":"Liberation Sans","color":"black","align":"center","baseline":"middle"},"encoding":{"text":{"field":"t"}}}
]
}
